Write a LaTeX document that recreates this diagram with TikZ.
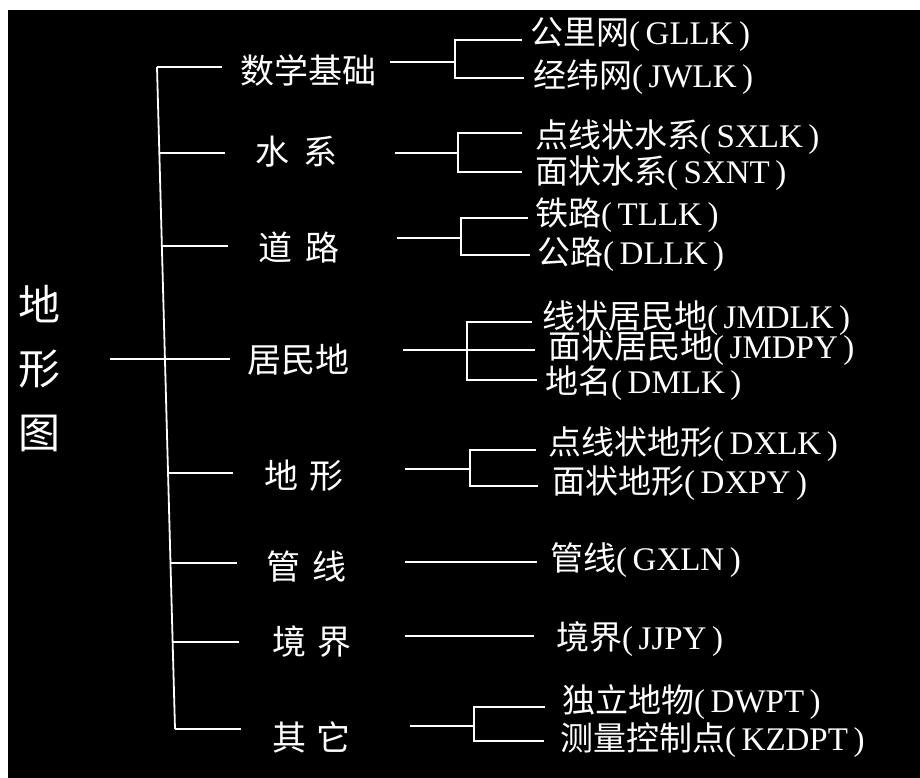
\documentclass[tikz,border=0pt]{standalone}
\usepackage{fontspec}
\setmainfont{Liberation Serif}
\newfontfamily\cjk{Noto Sans CJK SC}
\newcommand\mylab[2]{{\cjk #1}(\,#2\,)}
\begin{document}
\begin{tikzpicture}[x=1pt,y=-1pt,
  conn/.style={draw=white,line width=1.8pt},
  lvone/.style={text=white,anchor=west,inner sep=0pt,font=\cjk\fontsize{34}{40}\selectfont},
  lvtwo/.style={text=white,anchor=west,inner sep=0pt,font=\fontsize{33}{38}\selectfont},
  rootlab/.style={text=white,inner sep=0pt,align=center,font=\cjk\fontsize{42}{64}\selectfont}]
\useasboundingbox (0,0) rectangle (920,778);
\fill[white] (0,0) rectangle (920,778);
\fill[black] (8,10) rectangle (920,778);

% root
\node[rootlab] (root) at (39,369) {地\\形\\图};

% level one
\node[lvone] (m1) at (240,70) {数学基础};
\node[lvone] (m2) at (255,152) {水\hspace{14pt}系};
\node[lvone] (m3) at (258,247) {道\hspace{13pt}路};
\node[lvone] (m4) at (247,360) {居民地};
\node[lvone] (m5) at (264,476) {地\hspace{11pt}形};
\node[lvone] (m6) at (266,567) {管\hspace{12pt}线};
\node[lvone] (m7) at (272,642) {境\hspace{11pt}界};
\node[lvone] (m8) at (272,737) {其\hspace{10pt}它};

% level two
\node[lvtwo] (l1a) at (530,35) {\mylab{公里网}{GLLK}};
\node[lvtwo] (l1b) at (533,77) {\mylab{经纬网}{JWLK}};
\node[lvtwo] (l2a) at (535,137) {\mylab{点线状水系}{SXLK}};
\node[lvtwo] (l2b) at (535,173) {\mylab{面状水系}{SXNT}};
\node[lvtwo] (l3a) at (535,215) {\mylab{铁路}{TLLK}};
\node[lvtwo] (l3b) at (537,254) {\mylab{公路}{DLLK}};
\node[lvtwo] (l4a) at (542,318) {\mylab{线状居民地}{JMDLK}};
\node[lvtwo] (l4m) at (548,348) {\mylab{面状居民地}{JMDPY}};
\node[lvtwo] (l4b) at (545,383) {\mylab{地名}{DMLK}};
\node[lvtwo] (l5a) at (548,444) {\mylab{点线状地形}{DXLK}};
\node[lvtwo] (l5b) at (552,483) {\mylab{面状地形}{DXPY}};
\node[lvtwo] (l6) at (550,560) {\mylab{管线}{GXLN}};
\node[lvtwo] (l7) at (556,639) {\mylab{境界}{JJPY}};
\node[lvtwo] (l8a) at (562,702) {\mylab{独立地物}{DWPT}};
\node[lvtwo] (l8b) at (560,740) {\mylab{测量控制点}{KZDPT}};

% trunk coordinates
\coordinate (t1) at (157,67);   \coordinate (b1) at (222,67);
\coordinate (t2) at (159.3,153);\coordinate (b2) at (225,153);
\coordinate (t3) at (161.9,246);\coordinate (b3) at (228,246);
\coordinate (r0) at (110,359);  \coordinate (b4) at (230,359);
\coordinate (t5) at (168,473);  \coordinate (b5) at (233,473);
\coordinate (t6) at (170.5,563);\coordinate (b6) at (237,563);
\coordinate (t7) at (172.6,642);\coordinate (b7) at (239,642);
\coordinate (t8) at (175,729);  \coordinate (b8) at (241,729);

\draw[conn] (t1) -- (t8);
\draw[conn] (t1) -- (b1);
\draw[conn] (t2) -- (b2);
\draw[conn] (t3) -- (b3);
\draw[conn] (r0) -- (b4);
\draw[conn] (t5) -- (b5);
\draw[conn] (t6) -- (b6);
\draw[conn] (t7) -- (b7);
\draw[conn] (t8) -- (b8);

% right side connectors
\coordinate (s1) at (390,62);  \coordinate (j1) at (455,62);
\coordinate (e1a) at (522,40); \coordinate (e1b) at (524,78);
\draw[conn] (s1) -- (j1);
\draw[conn] (e1a) -| (j1) |- (e1b);

\coordinate (s2) at (395,153); \coordinate (j2) at (458,153);
\coordinate (e2a) at (522,133);\coordinate (e2b) at (522,172);
\draw[conn] (s2) -- (j2);
\draw[conn] (e2a) -| (j2) |- (e2b);

\coordinate (s3) at (397,238); \coordinate (j3) at (461,238);
\coordinate (e3a) at (528,218);\coordinate (e3b) at (530,255);
\draw[conn] (s3) -- (j3);
\draw[conn] (e3a) -| (j3) |- (e3b);

\coordinate (s4) at (403,350); \coordinate (j4) at (467,350);
\coordinate (e4a) at (532,322);\coordinate (e4m) at (535,350);
\coordinate (e4b) at (537,380);
\draw[conn] (s4) -- (e4m);
\draw[conn] (e4a) -| (j4) |- (e4b);

\coordinate (s5) at (405,469); \coordinate (j5) at (470,469);
\coordinate (e5a) at (536,450);\coordinate (e5b) at (538,486);
\draw[conn] (s5) -- (j5);
\draw[conn] (e5a) -| (j5) |- (e5b);

\coordinate (s6) at (405,562); \coordinate (e6) at (537,562);
\draw[conn] (s6) -- (e6);

\coordinate (s7) at (405,636); \coordinate (e7) at (534,636);
\draw[conn] (s7) -- (e7);

\coordinate (s8) at (410,726); \coordinate (j8) at (474,726);
\coordinate (e8a) at (545,707);\coordinate (e8b) at (544,741);
\draw[conn] (s8) -- (j8);
\draw[conn] (e8a) -| (j8) |- (e8b);
\end{tikzpicture}
\end{document}
